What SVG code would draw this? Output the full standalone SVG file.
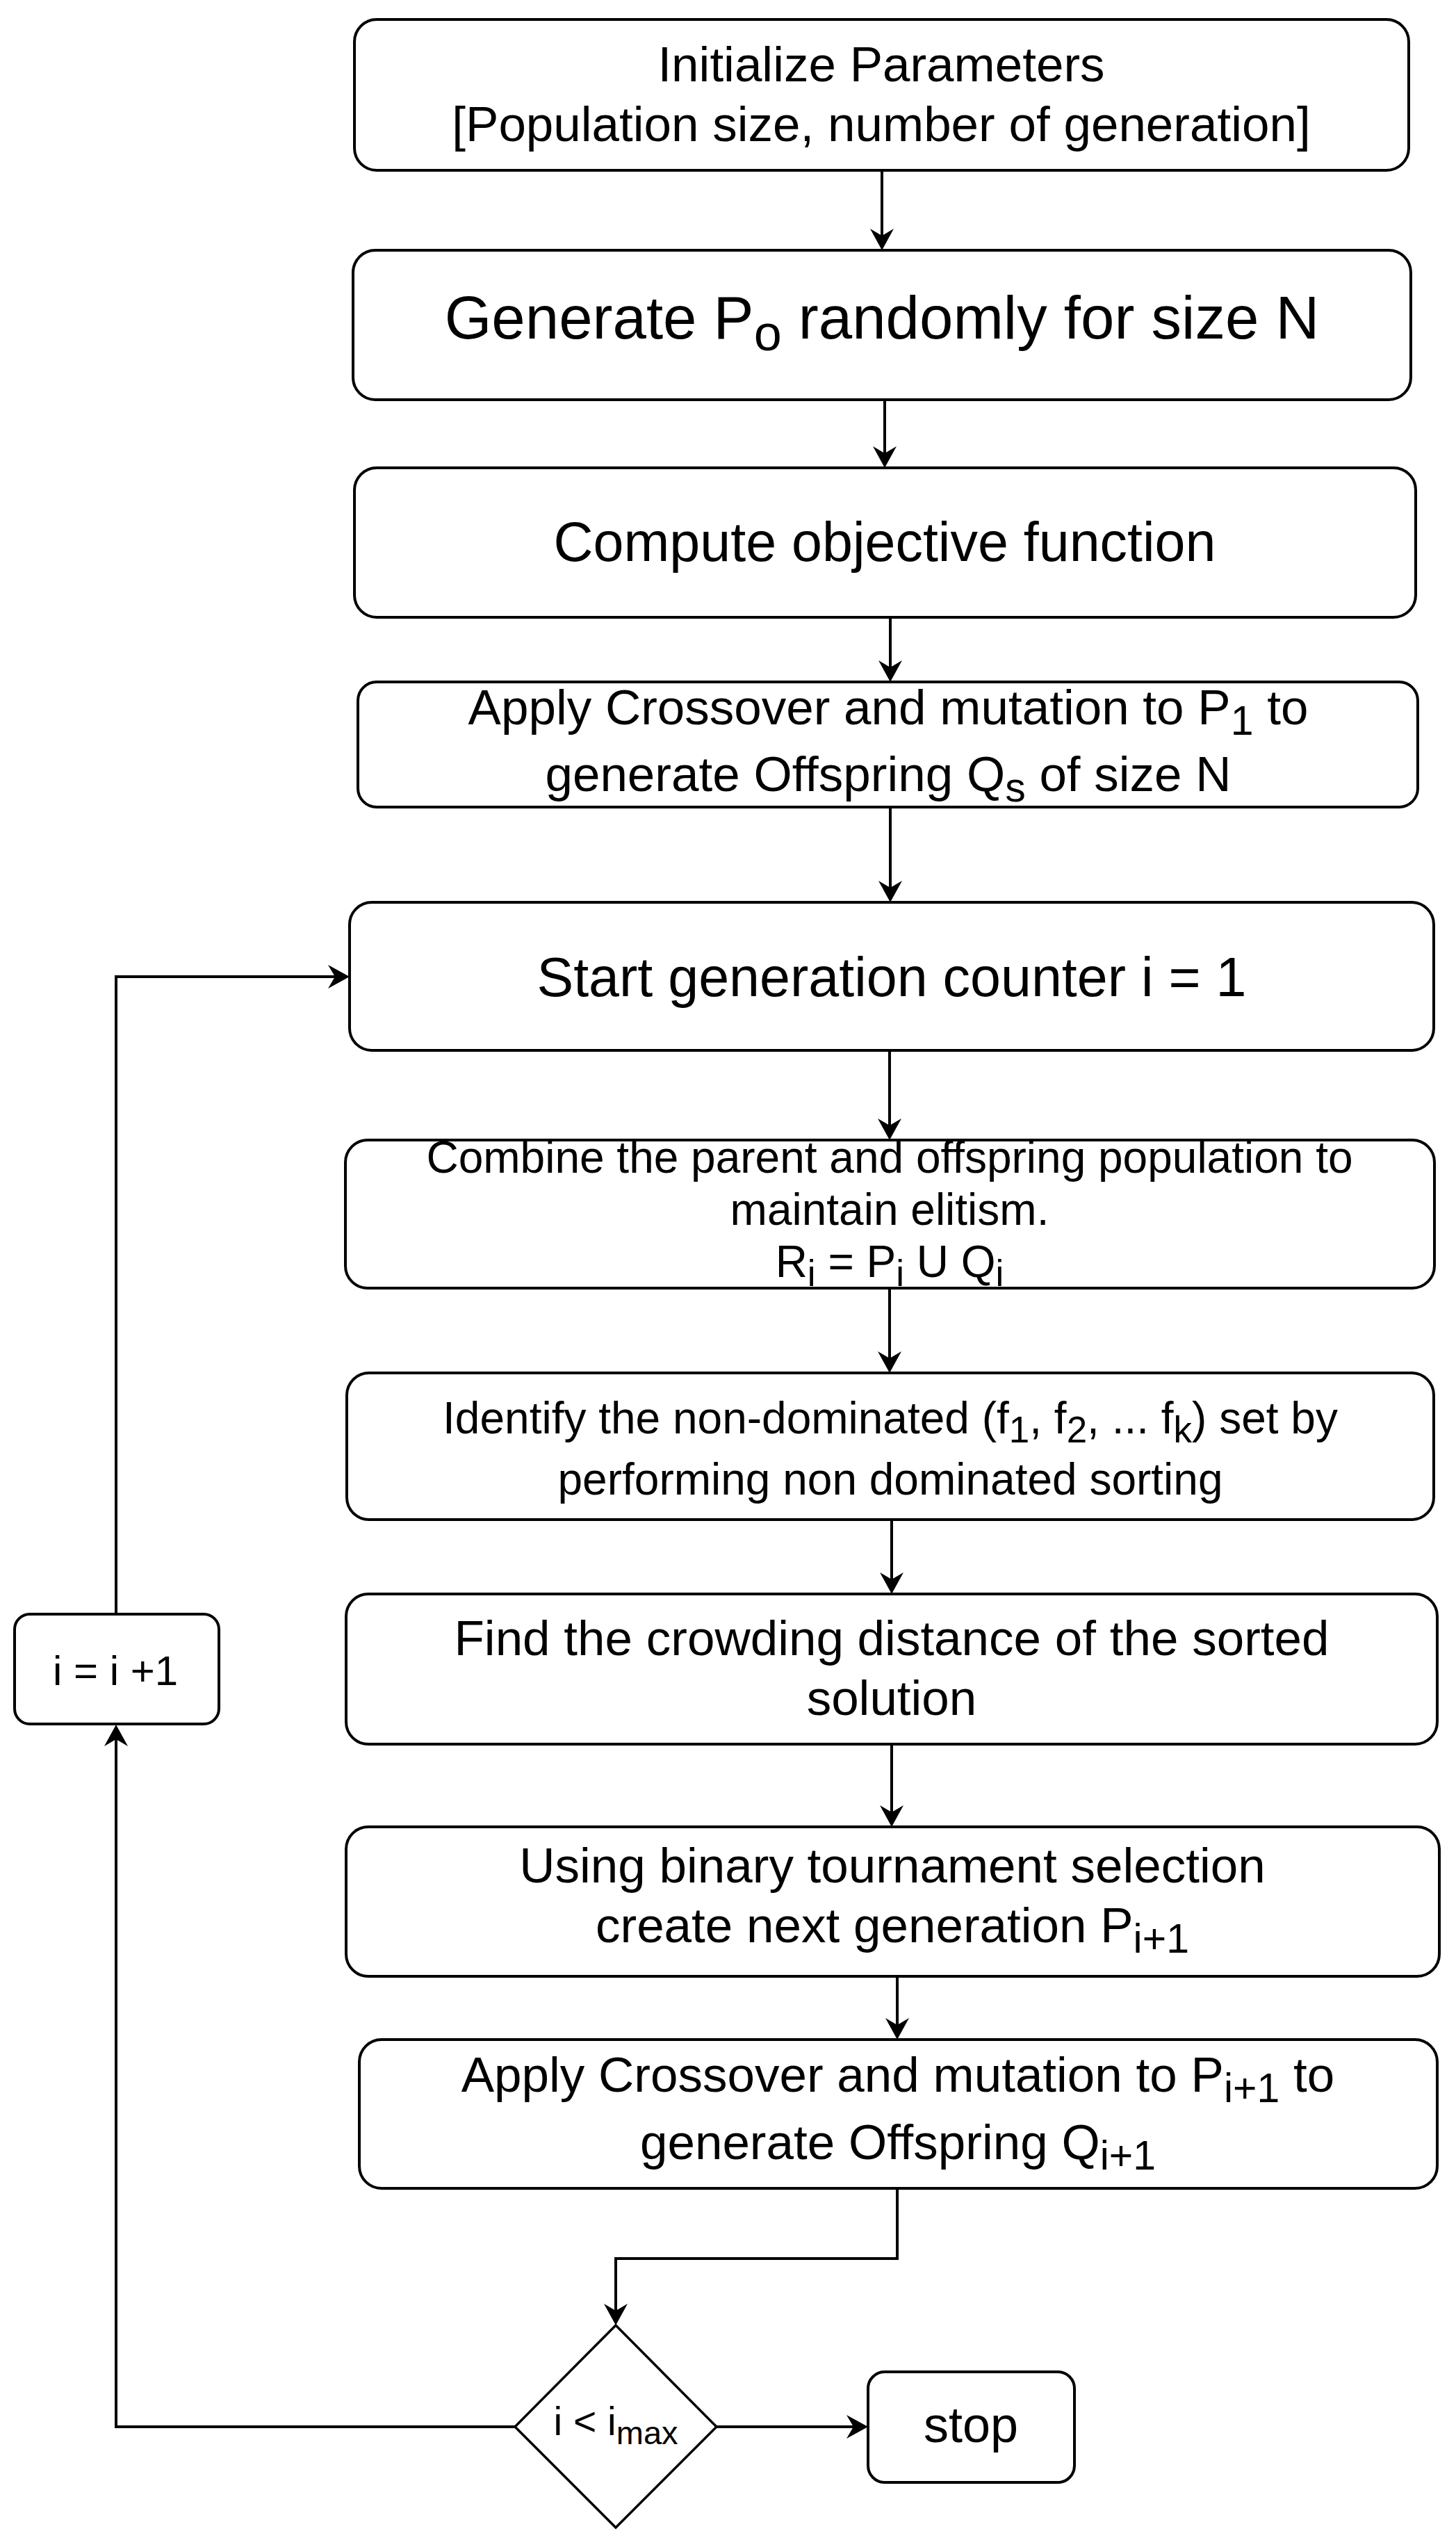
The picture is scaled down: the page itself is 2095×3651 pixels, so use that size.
<svg xmlns="http://www.w3.org/2000/svg" width="2095" height="3651" viewBox="0 0 2095 3651">
<style>
  .box { fill: #ffffff; stroke: #000000; stroke-width: 4; }
  .dia { fill: #ffffff; stroke: #000000; stroke-width: 3.5; }
  .edge { fill: none; stroke: #000000; stroke-width: 4; }
  text { font-family: "Liberation Sans", Arial, Helvetica, sans-serif; fill: #000000; text-anchor: middle; }
</style>
<defs>
  <marker id="arr" markerUnits="userSpaceOnUse" markerWidth="34" markerHeight="36" viewBox="0 0 34 36" refX="12" refY="18" orient="auto">
    <path d="M32,18 L1,1 L11,18 L1,35 Z" fill="#000000"/>
  </marker>
</defs>
<rect x="0" y="0" width="2095" height="3651" fill="#ffffff"/>

<g id="connectors">
  <path class="edge" d="M1269,245 L1269,340" marker-end="url(#arr)"/>
  <path class="edge" d="M1273,575 L1273,653" marker-end="url(#arr)"/>
  <path class="edge" d="M1281,888 L1281,961" marker-end="url(#arr)"/>
  <path class="edge" d="M1281,1161 L1281,1278" marker-end="url(#arr)"/>
  <path class="edge" d="M1280,1511 L1280,1620" marker-end="url(#arr)"/>
  <path class="edge" d="M1280,1853 L1280,1955" marker-end="url(#arr)"/>
  <path class="edge" d="M1283,2186 L1283,2273" marker-end="url(#arr)"/>
  <path class="edge" d="M1283,2509 L1283,2608" marker-end="url(#arr)"/>
  <path class="edge" d="M1291,2843 L1291,2914" marker-end="url(#arr)"/>
  <path class="edge" d="M1291,3148 L1291,3249 L886,3249 L886,3325" marker-end="url(#arr)"/>
  <path class="edge" d="M1031,3491 L1229,3491" marker-end="url(#arr)"/>
  <path class="edge" d="M741,3491 L167,3491 L167,2501" marker-end="url(#arr)"/>
  <path class="edge" d="M167,2322 L167,1405 L483,1405" marker-end="url(#arr)"/>
</g>

<g id="init">
  <rect class="box" x="510" y="28" width="1517" height="217" rx="32" ry="32"/>
  <text x="1268" y="117" font-size="71">Initialize Parameters</text>
  <text x="1268" y="203" font-size="71">[Population size, number of generation]</text>
</g>

<g id="generate">
  <rect class="box" x="508" y="360" width="1522" height="215" rx="32" ry="32"/>
  <text x="1269" y="487" font-size="87">Generate P<tspan font-size="72" dy="17">o</tspan><tspan dy="-17"> randomly for size N</tspan></text>
</g>

<g id="compute">
  <rect class="box" x="510" y="673" width="1527" height="215" rx="32" ry="32"/>
  <text x="1273" y="807" font-size="79">Compute objective function</text>
</g>

<g id="apply1">
  <rect class="box" x="515" y="981" width="1525" height="180" rx="27" ry="27"/>
  <text x="1278" y="1042" font-size="71">Apply Crossover and mutation to P<tspan font-size="59" dy="15">1</tspan><tspan dy="-15"> to</tspan></text>
  <text x="1278" y="1138" font-size="71">generate Offspring Q<tspan font-size="59" dy="15">s</tspan><tspan dy="-15"> of size N</tspan></text>
</g>

<g id="start">
  <rect class="box" x="503" y="1298" width="1560" height="213" rx="32" ry="32"/>
  <text x="1283" y="1433" font-size="79">Start generation counter i = 1</text>
</g>

<g id="combine">
  <rect class="box" x="497" y="1640" width="1567" height="213" rx="32" ry="32"/>
  <text x="1280" y="1687" font-size="64">Combine the parent and offspring population to</text>
  <text x="1280" y="1762" font-size="64">maintain elitism.</text>
  <text x="1280" y="1837" font-size="64">R<tspan font-size="53" dy="13">i</tspan><tspan dy="-13"> = P</tspan><tspan font-size="53" dy="13">i</tspan><tspan dy="-13"> U Q</tspan><tspan font-size="53" dy="13">i</tspan></text>
</g>

<g id="identify">
  <rect class="box" x="499" y="1975" width="1564" height="211" rx="32" ry="32"/>
  <text x="1281" y="2062" font-size="64">Identify the non-dominated (f<tspan font-size="53" dy="13">1</tspan><tspan dy="-13">, f</tspan><tspan font-size="53" dy="13">2</tspan><tspan dy="-13">, ... f</tspan><tspan font-size="53" dy="13">k</tspan><tspan dy="-13">) set by</tspan></text>
  <text x="1281" y="2150" font-size="64">performing non dominated sorting</text>
</g>

<g id="crowding">
  <rect class="box" x="498" y="2293" width="1570" height="216" rx="32" ry="32"/>
  <text x="1283" y="2381" font-size="71">Find the crowding distance of the sorted</text>
  <text x="1283" y="2467" font-size="71">solution</text>
</g>

<g id="tournament">
  <rect class="box" x="498" y="2628" width="1573" height="215" rx="32" ry="32"/>
  <text x="1284" y="2708" font-size="71">Using binary tournament selection</text>
  <text x="1284" y="2794" font-size="71">create next generation P<tspan font-size="59" dy="15">i+1</tspan></text>
</g>

<g id="apply2">
  <rect class="box" x="517" y="2934" width="1551" height="214" rx="32" ry="32"/>
  <text x="1292" y="3009" font-size="71">Apply Crossover and mutation to P<tspan font-size="59" dy="15">i+1</tspan><tspan dy="-15"> to</tspan></text>
  <text x="1292" y="3106" font-size="71">generate Offspring Q<tspan font-size="59" dy="15">i+1</tspan></text>
</g>

<g id="increment">
  <rect class="box" x="21" y="2322" width="294" height="158" rx="22" ry="22"/>
  <text x="166" y="2424" font-size="60">i = i +1</text>
</g>

<g id="decision">
  <polygon class="dia" points="886,3345 1031,3491 886,3636 741,3491"/>
  <text x="886" y="3503" font-size="57">i &lt; i<tspan font-size="47" dy="13">max</tspan></text>
</g>

<g id="stop">
  <rect class="box" x="1249" y="3412" width="297" height="159" rx="24" ry="24"/>
  <text x="1397" y="3513" font-size="72">stop</text>
</g>
</svg>
